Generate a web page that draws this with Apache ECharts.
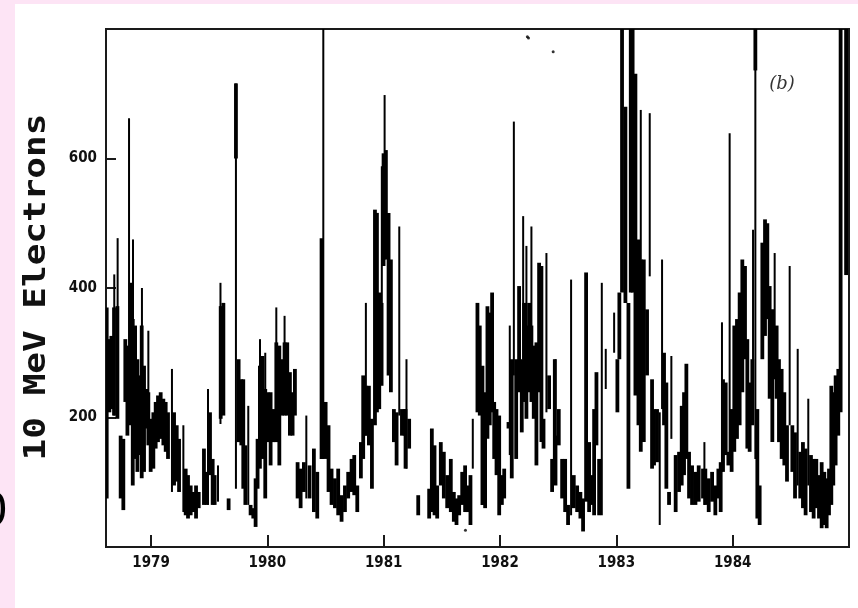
<!DOCTYPE html>
<html><head><meta charset="utf-8">
<script src="https://cdn.jsdelivr.net/npm/echarts@6/dist/echarts.min.js"></script>
<style>
html,body{margin:0;padding:0;background:#fde4f5;}
#wrap{position:relative;width:858px;height:608px;background:#fde4f5;overflow:hidden;}
#paper{position:absolute;left:15px;top:4px;right:0;bottom:0;background:#fff;}
#chart{position:absolute;left:0;top:0;width:858px;height:608px;}
</style></head><body>
<div id="wrap"><div id="paper"></div><div id="chart"></div></div>
<script>
// x tick labels (years) and y tick labels
var yearTicks = [1979, 1980, 1981, 1982, 1983, 1984];
var valueTicks = [200, 400, 600];

// [year, low, high] dense vertical bands of the 10 MeV electron record
var blocks1979 = [
 [1978.619,75,370],[1978.642,208,321],[1978.659,213,326],[1978.682,203,370],[1978.711,198,372],
 [1978.739,75,172],[1978.762,57,167],[1978.779,224,321],[1978.797,172,311],[1978.825,188,408],
 [1978.843,95,352],[1978.863,136,342],[1978.883,116,290],[1978.900,142,265],[1978.920,106,342],
 [1978.940,116,280],[1978.960,183,244],[1978.977,157,239],[1978.997,116,198],[1979.020,121,208],
 [1979.040,152,224],[1979.060,162,234],[1979.083,167,239],[1979.106,157,229],[1979.126,147,224],
 [1979.146,136,208],[1979.198,95,208],[1979.221,101,188],[1979.241,85,167],[1979.298,49,121],
 [1979.318,44,111],[1979.341,49,95],[1979.364,54,85],[1979.387,44,95],[1979.410,60,85],
 [1979.455,65,152],[1979.478,65,116],[1979.507,111,208],[1979.530,65,136],[1979.547,65,111],
 [1979.599,198,372],[1979.622,203,377],[1979.667,57,75],[1979.730,600,716],[1979.753,162,290],
 [1979.776,157,259],[1979.793,90,259],[1979.811,65,157],[1979.856,49,65],[1979.879,44,60],
 [1979.899,31,106]
];
var blocks1980 = [
 [1979.916,90,167],[1979.936,121,280],[1979.959,136,295],[1979.982,75,244],[1980.002,162,239],
 [1980.028,126,239],[1980.051,162,213],[1980.077,162,316],[1980.103,126,311],[1980.125,203,290],
 [1980.148,203,316],[1980.171,203,316],[1980.194,172,270],[1980.217,172,239],[1980.237,203,275],
 [1980.260,75,131],[1980.286,60,121],[1980.314,85,131],[1980.363,75,126],[1980.400,54,152],
 [1980.429,44,116],[1980.466,136,477],[1980.501,136,224],[1980.526,85,188],[1980.552,65,121],
 [1980.581,60,106],[1980.609,49,121],[1980.638,39,80],[1980.667,54,95],[1980.695,75,116],
 [1980.724,85,136],[1980.747,80,142],[1980.773,54,95],[1980.804,106,162],[1980.824,136,265],
 [1980.847,172,249],[1980.873,157,249],[1980.899,90,198],[1980.925,188,521],[1980.942,208,516],
 [1980.962,213,393],[1980.982,249,377],[1980.999,434,608],[1981.019,444,613],[1981.042,265,516],
 [1981.062,239,444],[1981.088,162,213],[1981.111,126,208],[1981.157,172,213],[1981.180,172,213]
];
var blocks1981 = [
 [1981.188,121,213],[1981.219,152,198],[1981.297,49,80],[1981.391,44,90],[1981.414,54,183],
 [1981.437,49,157],[1981.460,44,95],[1981.491,95,162],[1981.517,75,147],[1981.546,60,111],
 [1981.577,54,136],[1981.603,39,85],[1981.626,34,75],[1981.649,49,80],[1981.675,65,116],
 [1981.700,54,126],[1981.723,54,95],[1981.746,34,111],[1981.806,208,377],[1981.826,203,342],
 [1981.849,65,280],[1981.872,60,239],[1981.892,167,372],[1981.912,188,362],[1981.932,208,393],
 [1981.950,136,224],[1981.970,111,213],[1981.993,49,203],[1982.016,65,111],[1982.036,75,121],
 [1982.073,183,193],[1982.101,106,290],[1982.139,136,290],[1982.164,239,403],[1982.187,177,290],
 [1982.207,224,377],[1982.227,198,342],[1982.250,239,377],[1982.270,224,342],[1982.290,198,311],
 [1982.313,126,316],[1982.336,239,439],[1982.356,162,434],[1982.374,152,198],[1982.422,213,265],
 [1982.448,85,136],[1982.471,111,290]
];
var blocks1983 = [
 [1982.477,95,172],[1982.505,157,213],[1982.534,75,136],[1982.560,54,136],[1982.585,34,65],
 [1982.634,60,111],[1982.663,54,95],[1982.691,44,85],[1982.714,24,75],[1982.740,70,424],
 [1982.766,54,162],[1982.789,65,111],[1982.809,49,213],[1982.829,157,270],[1982.852,49,136],
 [1983.009,208,290],[1983.026,290,393],[1983.049,393,800],[1983.078,377,680],[1983.104,90,377],
 [1983.124,393,800],[1983.140,393,800],[1983.164,234,731],[1983.190,188,475],[1983.210,147,444],
 [1983.236,162,444],[1983.264,265,367],[1983.307,121,259],[1983.324,126,213],[1983.350,131,213],
 [1983.410,188,300],[1983.430,90,254],[1983.453,65,85],[1983.510,54,142],[1983.539,85,147],
 [1983.562,95,218],[1983.582,111,239],[1983.602,136,283],[1983.625,75,147],[1983.651,65,126],
 [1983.680,65,116],[1983.708,70,126],[1983.745,75,121]
];
var blocks1984 = [
 [1983.765,65,121],[1983.794,54,106],[1983.823,70,116],[1983.851,49,95],[1983.877,75,121],
 [1983.897,54,131],[1983.917,116,259],[1983.940,142,254],[1983.963,126,147],[1983.991,116,213],
 [1984.014,147,342],[1984.037,167,352],[1984.060,188,393],[1984.083,239,444],[1984.106,290,434],
 [1984.126,152,321],[1984.146,147,254],[1984.169,188,290],[1984.195,736,800],[1984.212,44,213],
 [1984.232,34,95],[1984.255,290,470],[1984.278,326,506],[1984.298,352,500],[1984.318,229,403],
 [1984.341,162,367],[1984.378,229,342],[1984.398,162,290],[1984.421,136,275],[1984.444,126,239],
 [1984.467,101,188],[1984.513,116,188],[1984.536,75,177],[1984.581,75,147],[1984.604,60,162],
 [1984.627,49,152],[1984.673,54,142],[1984.696,44,136],[1984.719,60,136],[1984.742,44,111],
 [1984.765,29,131],[1984.788,34,116],[1984.808,29,106],[1984.828,49,121],[1984.848,65,249],
 [1984.865,95,239],[1984.885,126,265],[1984.908,172,275],[1984.928,208,800],[1984.975,420,800]
];

// [year, low, high] thin isolated spikes
var spikes1979 = [
 [1978.684,203,421],[1978.713,300,477],[1978.811,224,662],[1978.845,300,475],[1978.922,250,400],
 [1978.977,230,334],[1979.180,85,275],[1979.278,54,188],[1979.490,65,244],[1979.576,70,126],
 [1979.597,190,408],[1979.730,90,716],[1979.836,65,218]
];
var spikes1980 = [
 [1979.937,250,321],[1979.982,200,300],[1980.077,250,370],[1980.148,250,357],[1980.335,75,203],
 [1980.481,136,800],[1980.847,172,377],[1980.984,350,588],[1981.008,444,698],[1981.134,203,495]
];
var spikes1981 = [
 [1981.196,121,290],[1981.766,121,198],[1982.084,142,342],[1982.119,265,657],[1982.199,290,511],
 [1982.227,300,465],[1982.270,300,495],[1982.399,208,454],[1982.477,150,290]
];
var spikes1983 = [
 [1982.611,49,413],[1982.875,49,408],[1982.909,244,306],[1982.981,300,362],[1983.210,440,675],
 [1983.287,418,670],[1983.373,34,208],[1983.393,213,444],[1983.473,167,295]
];
var spikes1984 = [
 [1983.757,65,162],[1983.908,116,347],[1983.974,136,639],[1984.175,193,490],[1984.195,136,800],
 [1984.361,259,454],[1984.490,188,434],[1984.559,95,306],[1984.650,95,229]
];

// isolated single points
var dots = [[1982.235,788],[1982.245,786],[1982.457,765],[1981.703,26]];

var blocks = [].concat(blocks1979, blocks1980, blocks1981, blocks1983, blocks1984);
var spikes = [].concat(spikes1979, spikes1980, spikes1981, spikes1983, spikes1984);

function bars(w) {
  return function (params, api) {
    var x = api.value(0), lo = api.value(1), hi = api.value(2);
    var a = api.coord([x, hi]), b = api.coord([x, lo]);
    return {
      type: 'rect',
      shape: { x: a[0] - w / 2, y: a[1], width: w, height: Math.max(1, b[1] - a[1]) },
      style: { fill: '#000' }
    };
  };
}

var labelFont = '"DejaVu Sans Condensed", "DejaVu Sans", sans-serif';
var axisColor = '#1a1a1a';

var chart = echarts.init(document.getElementById('chart'), null, { renderer: 'canvas' });
chart.setOption({
  backgroundColor: 'transparent',
  animation: false,
  grid: { left: 106, right: 9, top: 29, bottom: 61, show: true, borderColor: axisColor, borderWidth: 2, backgroundColor: 'transparent' },
  xAxis: {
    type: 'value', min: 1978.613, max: 1985.0,
    axisLine: { show: true, lineStyle: { color: axisColor, width: 2 } },
    axisTick: { show: true, inside: true, length: 12, customValues: yearTicks, lineStyle: { color: axisColor, width: 2 } },
    axisLabel: { customValues: yearTicks, formatter: function (v) { return String(v); }, margin: 9,
      fontFamily: labelFont, fontSize: 15, fontWeight: 'bold', color: '#111' },
    splitLine: { show: false }
  },
  yAxis: {
    type: 'value', min: 0, max: 800,
    axisLine: { show: true, lineStyle: { color: axisColor, width: 2 } },
    axisTick: { show: true, inside: true, length: 10, customValues: valueTicks, lineStyle: { color: axisColor, width: 2 } },
    axisLabel: { customValues: valueTicks, formatter: function (v) { return String(v); }, margin: 9,
      fontFamily: labelFont, fontSize: 15, fontWeight: 'bold', color: '#111' },
    splitLine: { show: false }
  },
  series: [
    { type: 'custom', renderItem: bars(3.8), data: blocks, clip: true, encode: { x: 0, y: [1, 2] } },
    { type: 'custom', renderItem: bars(2), data: spikes, clip: true, encode: { x: 0, y: [1, 2] } },
    { type: 'scatter', data: dots, symbolSize: 3, itemStyle: { color: '#000' }, silent: true }
  ],
  graphic: [
    { type: 'text', x: 37, y: 287, rotation: Math.PI / 2, scaleX: 1.2, silent: true,
      style: { text: '10 MeV Electrons', font: 'bold 30px "DejaVu Sans Mono", monospace', fill: '#111',
        textAlign: 'center', textVerticalAlign: 'middle', align: 'center', verticalAlign: 'middle' } },
    { type: 'text', x: -20, y: 514, silent: true,
      style: { text: '0', font: '44px "DejaVu Sans", sans-serif', fill: '#000',
        textAlign: 'left', textVerticalAlign: 'middle', align: 'left', verticalAlign: 'middle' } },
    { type: 'text', x: 782, y: 84, silent: true,
      style: { text: '(b)', font: 'italic 18px "DejaVu Serif", serif', fill: '#333',
        textAlign: 'center', textVerticalAlign: 'middle', align: 'center', verticalAlign: 'middle' } }
  ]
});
</script>
</body></html>
